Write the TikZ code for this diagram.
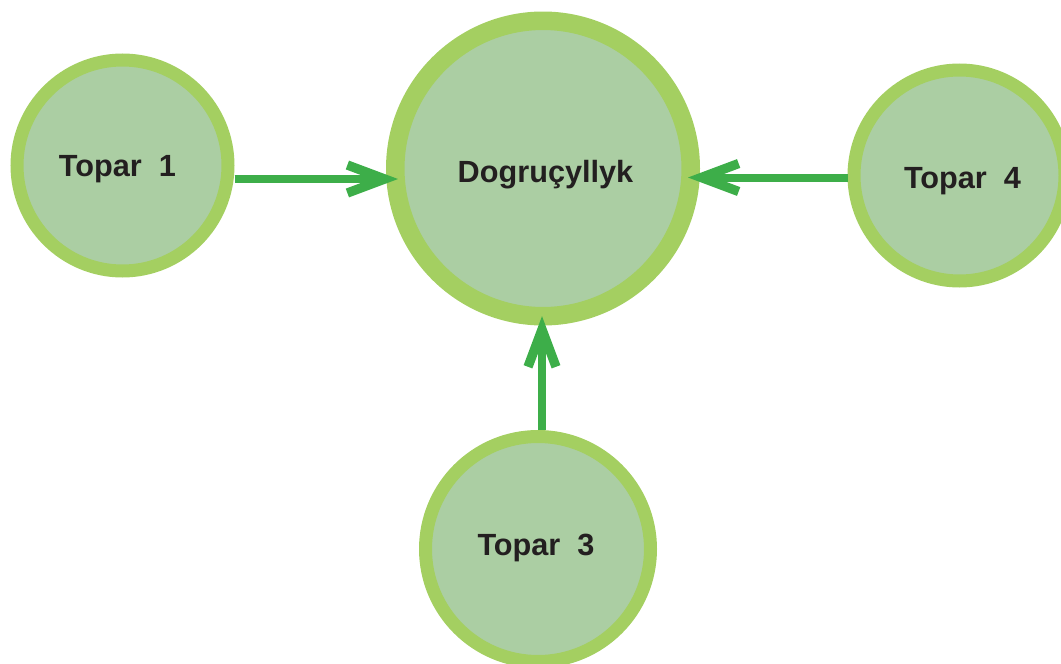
\documentclass[tikz,border=0pt]{standalone}
\usepackage{fontspec}
\setmainfont{Liberation Sans}
\usetikzlibrary{arrows.meta}
\definecolor{ring}{HTML}{A4CF61}
\definecolor{inner}{HTML}{ABCEA3}
\definecolor{arrowc}{HTML}{3DAE49}
\definecolor{txt}{HTML}{231F20}
\begin{document}
\begin{tikzpicture}[x=0.75pt,y=-0.75pt,
  bub/.style={circle,draw=ring,fill=inner,inner sep=0pt},
  lbl/.style={anchor=base,text=txt,font=\fontsize{23pt}{27pt}\selectfont\bfseries,inner sep=0pt},
  arr/.style={draw=arrowc,line width=6pt,-{Straight Barb[length=28pt,width=21pt,line width=7pt]},line join=miter}]
\useasboundingbox (0,0) rectangle (1061,664);
\node[bub,line width=9.75pt,minimum size=158.25pt] (t1) at (122.5,165.5) {};
\node[bub,line width=13.9pt,minimum size=221.6pt] (dog) at (543,168.5) {};
\node[bub,line width=9.75pt,minimum size=158.25pt] (t4) at (959.5,175.5) {};
\node[bub,line width=9.75pt,minimum size=168.75pt] (t3) at (538,549) {};
\node[lbl] (l1) at (117.5,176) {Topar\ \ 1};
\node[lbl] (ld) at (545.5,182) {Dogruçyllyk};
\node[lbl] (l4) at (962.5,188) {Topar\ \ 4};
\node[lbl] (l3) at (536,555) {Topar\ \ 3};
\coordinate (ya) at (0,179);
\coordinate (yb) at (0,177.5);
\coordinate (xc) at (542,0);
\draw[arr,shorten >=-9pt] (t1.east |- ya) -- (dog.west |- ya);
\draw[arr,shorten >=-9pt] (t4.west |- yb) -- (dog.east |- yb);
\draw[arr,shorten >=-7pt] (t3.north -| xc) -- (dog.south -| xc);
\end{tikzpicture}
\end{document}
